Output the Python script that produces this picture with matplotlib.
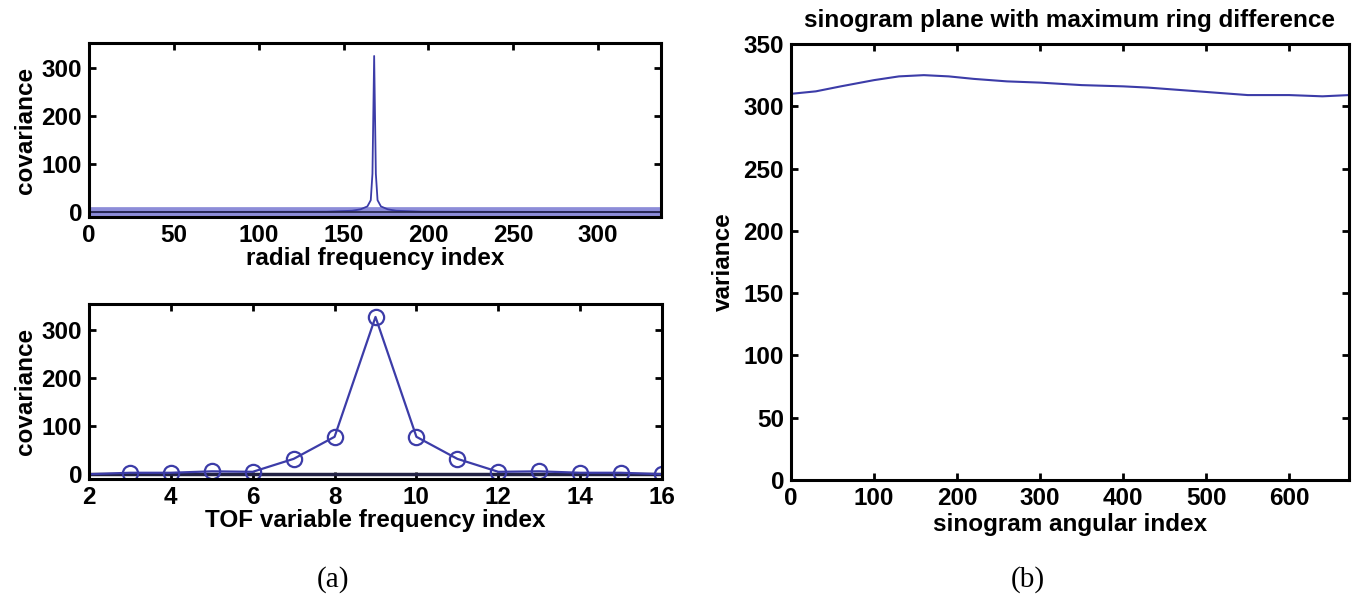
import matplotlib
matplotlib.use("Agg")
import matplotlib.pyplot as plt
import numpy as np

# (a) top: covariance along radial frequency index
radial_idx = [0, 140, 155, 160, 164, 166, 167, 168, 169, 170, 172, 176, 181, 196, 337]
radial_cov = [0, 1, 3, 6, 12, 25, 80, 325, 80, 25, 12, 6, 3, 1, 0]

# (a) bottom: covariance along TOF variable frequency index
tof_idx = [2, 3, 4, 5, 6, 7, 8, 9, 10, 11, 12, 13, 14, 15, 16]
tof_cov = [0, 3, 3, 6, 5, 32, 78, 328, 78, 32, 5, 6, 3, 3, 0]

# (b) variance along sinogram angular index
ang_idx = [0, 30, 60, 100, 130, 160, 190, 220, 260, 300, 350, 400, 430, 470, 510, 550, 600, 640, 672]
ang_var = [310, 312, 316, 321, 324, 325, 324, 322, 320, 319, 317, 316, 315, 313, 311, 309, 309, 308, 309]

W, H = 1362, 604
fig = plt.figure(figsize=(W / 100, H / 100), dpi=100)
plt.rcParams['font.family'] = ['Liberation Sans', 'DejaVu Sans']
plt.rcParams['font.weight'] = 'bold'

blue = '#3c3ca8'
band = '#8c8cd8'
fs = 17.5


def box(l, t, r, b):
    return [l / W, 1 - b / H, (r - l) / W, (b - t) / H]


def style(ax):
    for s in ax.spines.values():
        s.set_linewidth(2.2)
    ax.tick_params(direction='in', length=5, width=2, top=True, right=True,
                   labelsize=fs, pad=5)
    for lab in ax.get_xticklabels() + ax.get_yticklabels():
        lab.set_fontweight('bold')


ax1 = fig.add_axes(box(89, 43, 661, 217))
ax1.plot([radial_idx[0], radial_idx[-1]], [0, 0], color=band, lw=7, solid_capstyle='butt')
ax1.plot(radial_idx, radial_cov, color=blue, lw=1.3)
ax1.plot(radial_idx, [0] * len(radial_idx), color='#222244', lw=1.2)
ax1.set_xlim(0, 337)
ax1.set_ylim(-10, 352)
ax1.set_xticks([0, 50, 100, 150, 200, 250, 300])
ax1.set_yticks([0, 100, 200, 300])
ax1.set_xlabel('radial frequency index', fontsize=fs, fontweight='bold', labelpad=0)
ax1.set_ylabel('covariance', fontsize=fs, fontweight='bold', labelpad=3)
style(ax1)

ax2 = fig.add_axes(box(89, 304, 662, 479))
ax2.plot(tof_idx, [0] * len(tof_idx), color='#222244', lw=2.5)
ax2.plot(tof_idx, tof_cov, color=blue, lw=1.6, marker='o', ms=11, mfc='none',
         mew=1.6, markevery=list(range(1, len(tof_idx))), clip_on=True)
ax2.set_xlim(2, 16)
ax2.set_ylim(-10, 355)
ax2.set_xticks([2, 4, 6, 8, 10, 12, 14, 16])
ax2.set_yticks([0, 100, 200, 300])
ax2.set_xlabel('TOF variable frequency index', fontsize=fs, fontweight='bold', labelpad=0)
ax2.set_ylabel('covariance', fontsize=fs, fontweight='bold', labelpad=3)
style(ax2)

ax3 = fig.add_axes(box(791, 44, 1349, 480))
ax3.plot(ang_idx, ang_var, color=blue, lw=1.5)
ax3.set_xlim(0, 672)
ax3.set_ylim(0, 350)
ax3.set_xticks([0, 100, 200, 300, 400, 500, 600])
ax3.set_yticks(np.arange(0, 351, 50))
ax3.set_xlabel('sinogram angular index', fontsize=fs, fontweight='bold', labelpad=2)
ax3.set_ylabel('variance', fontsize=fs, fontweight='bold', labelpad=6)
ax3.set_title('sinogram plane with maximum ring difference', fontsize=fs,
              fontweight='bold', pad=12)
style(ax3)

fig.text(333 / W, 1 - 580 / H, '(a)', fontsize=21, family='Liberation Serif',
         fontweight='normal', ha='center', va='center')
fig.text(1028 / W, 1 - 580 / H, '(b)', fontsize=21, family='Liberation Serif',
         fontweight='normal', ha='center', va='center')

fig.savefig('out.png', dpi=100)
